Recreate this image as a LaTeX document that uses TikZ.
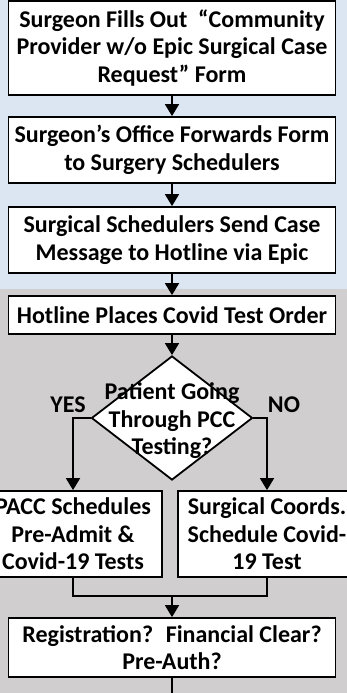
\documentclass[tikz,border=0pt]{standalone}
\usepackage{fontspec}
\setmainfont{Carlito}
\usetikzlibrary{arrows.meta,shapes.geometric}
\definecolor{bgblue}{HTML}{DCE6F2}
\definecolor{bggray}{HTML}{D0CECE}
\begin{document}
\begin{tikzpicture}[x=1pt,y=1pt,
  txt/.style={align=center, font=\bfseries\fontsize{24}{27.5}\selectfont, inner sep=0pt},
  box/.style={txt, draw=black, line width=1.8pt, fill=white, minimum width=327pt},
  ln/.style={line width=1.8pt},
  arr/.style={ln, -{Triangle[length=12pt,width=14pt]}}]
\useasboundingbox (0,0) rectangle (347,-693);
\fill[bgblue] (0,0) rectangle (347,-289);
\fill[bggray] (0,-289) rectangle (347,-693);
\node[box, minimum height=94pt] (b1) at (172,-48) {Surgeon Fills Out \ “Community\\Provider w/o Epic Surgical Case\\Request” Form};
\node[box, minimum height=66pt] (b2) at (172,-150) {Surgeon’s Office Forwards Form\\to Surgery Schedulers};
\node[box, minimum height=66pt] (b3) at (172,-240) {Surgical Schedulers Send Case\\Message to Hotline via Epic};
\node[box, minimum height=38pt] (b4) at (172,-315) {Hotline Places Covid Test Order};
\node[diamond, draw=black, ln, fill=white, minimum width=161pt, minimum height=124pt, inner sep=0pt] (dec) at (172,-418) {};
\node[txt] (dect) at (172,-421) {Patient Going\\Through PCC\\Testing?};
\node[txt] (yes) at (68,-405) {YES};
\node[txt] (no) at (284,-405) {NO};
\node[box, minimum width=178pt, minimum height=86pt] (lb) at (73,-534) {PACC Schedules\\Pre-Admit \&\\Covid-19 Tests};
\node[box, minimum width=178pt, minimum height=86pt] (rb) at (267,-534) {Surgical Coords.\\Schedule Covid-\\19 Test};
\node[box, minimum height=59pt] (b5) at (172,-647.5) {Registration? \ Financial Clear?\\Pre-Auth?};
\coordinate (mj) at (172,-596);
\coordinate (endpt) at (172,-693);
\draw[arr] (b1) -- (b2);
\draw[arr] (b2) -- (b3);
\draw[arr] (b3) -- (b4);
\draw[arr] (b4) -- (dec);
\draw[arr] (dec.west) -| (lb.north);
\draw[arr] (dec.east) -| (rb.north);
\draw[ln] (lb.south) |- (mj) -| (rb.south);
\draw[arr] (mj) -- (b5);
\draw[ln] (b5.south) -- (endpt);
\end{tikzpicture}
\end{document}
